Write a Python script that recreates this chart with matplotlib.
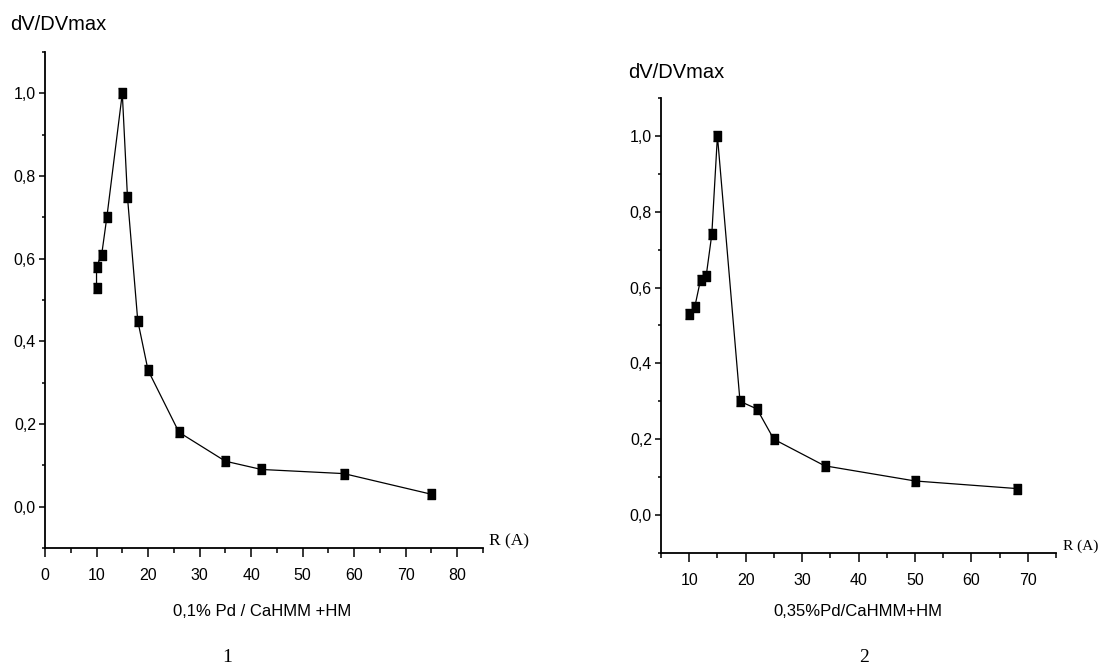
import matplotlib
matplotlib.use("Agg")
import matplotlib.pyplot as plt
from matplotlib.ticker import MultipleLocator, FuncFormatter

# panel 1: 0,1% Pd / CaHMM +HM
r1 = [10, 10, 11, 12, 15, 16, 18, 20, 26, 35, 42, 58, 75]
v1 = [0.53, 0.58, 0.61, 0.70, 1.00, 0.75, 0.45, 0.33, 0.18, 0.11, 0.09, 0.08, 0.03]

# panel 2: 0,35%Pd/CaHMM+HM
r2 = [10, 11, 12, 13, 14, 15, 19, 22, 25, 34, 50, 68]
v2 = [0.53, 0.55, 0.62, 0.63, 0.74, 1.00, 0.30, 0.28, 0.20, 0.13, 0.09, 0.07]

W, H = 1100, 667
sans = ['Liberation Sans', 'DejaVu Sans']
serif = ['Liberation Serif', 'DejaVu Serif']
plt.rcParams['font.family'] = sans

fig = plt.figure(figsize=(11, 6.67), dpi=100)


def px_axes(l, r, t, b):
    return fig.add_axes([l / W, 1 - b / H, (r - l) / W, (b - t) / H])


def comma(v, pos):
    return f"{v:.1f}".replace('.', ',')


box = [(-0.8, -1), (0.8, -1), (0.8, 1), (-0.8, 1)]


def style(ax, xlim, xmajor):
    ax.set_ylim(-0.1, 1.1)
    ax.set_xlim(*xlim)
    for s in ['top', 'right']:
        ax.spines[s].set_visible(False)
    for s in ['left', 'bottom']:
        ax.spines[s].set_linewidth(1.3)
    ax.yaxis.set_major_locator(MultipleLocator(0.2))
    ax.yaxis.set_minor_locator(MultipleLocator(0.1))
    ax.yaxis.set_major_formatter(FuncFormatter(comma))
    ax.xaxis.set_major_locator(MultipleLocator(10))
    ax.xaxis.set_minor_locator(MultipleLocator(5))
    ax.set_xticks(xmajor)
    ax.tick_params(axis='y', which='major', direction='out', length=4.5, width=1.1, pad=2, labelsize=11.5)
    ax.tick_params(axis='y', which='minor', direction='out', length=2.5, width=1.1)
    ax.tick_params(axis='x', which='major', direction='out', length=6.5, width=1.1, pad=8, labelsize=11.5)
    ax.tick_params(axis='x', which='minor', direction='out', length=3.5, width=1.1)
    ax.set_facecolor('none')


ax1 = px_axes(45, 483, 52, 548)
ax1.plot(r1, v1, color='black', lw=0.9, marker=box, markersize=7.5, markerfacecolor='black',
         markeredgecolor='black', clip_on=False)
style(ax1, (0, 85), range(0, 81, 10))

ax2 = px_axes(661, 1056, 98, 553)
ax2.plot(r2, v2, color='black', lw=0.9, marker=box, markersize=7.5, markerfacecolor='black',
         markeredgecolor='black', clip_on=False)
style(ax2, (5, 75), range(10, 71, 10))


def ftext(x, y, s, **kw):
    fig.text(x / W, 1 - y / H, s, **kw)


ftext(10, 25, 'dV/DVmax', fontsize=14.5, ha='left', va='center')
ftext(628, 72, 'dV/DVmax', fontsize=14.5, ha='left', va='center')
ftext(489, 541, 'R (A)', fontsize=12.5, family=serif, ha='left', va='center')
ftext(1063, 546, 'R (A)', fontsize=11, family=serif, ha='left', va='center')
ftext(262, 612, '0,1% Pd / CaHMM +HM', fontsize=12, ha='center', va='center')
ftext(858, 612, '0,35%Pd/CaHMM+HM', fontsize=12, ha='center', va='center')
ftext(227, 657, '1', fontsize=14, family=serif, ha='center', va='center')
ftext(864, 657, '2', fontsize=14, family=serif, ha='center', va='center')

fig.savefig('out.png', dpi=100, facecolor='white')
